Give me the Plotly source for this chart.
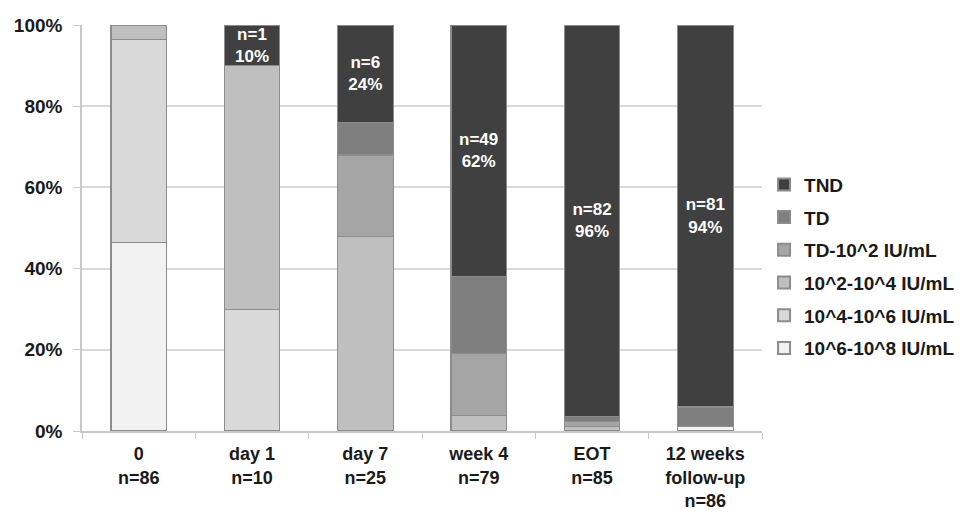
import plotly.graph_objects as go

categories = ["0<br>n=86", "day 1<br>n=10", "day 7<br>n=25", "week 4<br>n=79",
              "EOT<br>n=85", "12 weeks<br>follow-up<br>n=86"]

# percentages per category (bottom to top stacking order)
s_10_6_8 = [46.5, 0, 0, 0, 0, 1.2]
s_10_4_6 = [50.0, 30, 0, 0, 0, 0]
s_10_2_4 = [3.5, 60, 48, 3.8, 1.1, 0]
s_td_10_2 = [0, 0, 20, 15.2, 1.2, 0]
s_td = [0, 0, 8, 19.0, 1.2, 4.7]
s_tnd = [0, 10, 24, 62.0, 96.5, 94.1]
tnd_labels = ["", "n=1<br>10%", "n=6<br>24%", "n=49<br>62%", "n=82<br>96%", "n=81<br>94%"]

series = [
    ("10^6-10^8 IU/mL", s_10_6_8, "#f2f2f2"),
    ("10^4-10^6 IU/mL", s_10_4_6, "#d9d9d9"),
    ("10^2-10^4 IU/mL", s_10_2_4, "#bfbfbf"),
    ("TD-10^2 IU/mL", s_td_10_2, "#a5a5a5"),
    ("TD", s_td, "#7f7f7f"),
    ("TND", s_tnd, "#404040"),
]

FONT = "Liberation Sans, Arial, sans-serif"

fig = go.Figure()
for i, (name, vals, col) in enumerate(series):
    kw = {}
    if name == "TND":
        kw = dict(text=tnd_labels, textposition="inside", insidetextanchor="middle",
                  textangle=0, textfont=dict(color="white", size=17, family=FONT, weight="bold"))
    fig.add_trace(go.Bar(
        x=categories, y=vals, name=name, legendgroup=name, legendrank=1000 - i,
        marker=dict(color=col, line=dict(color="#8c8c8c", width=1.2)),
        **kw))

fig.update_layout(
    width=965, height=513,
    barmode="stack", bargap=0.51,
    plot_bgcolor="white", paper_bgcolor="white",
    margin=dict(l=74, r=211, t=17, b=90, autoexpand=False),
    font=dict(family=FONT, size=18, color="#1a1a1a", weight="bold"),
    uniformtext=dict(minsize=17, mode="show"),
    showlegend=True,
    legend=dict(traceorder="grouped", x=1.003, xanchor="left", y=0.405, yanchor="middle",
                font=dict(size=19, family=FONT, color="#1a1a1a", weight="bold"),
                itemsizing="constant", tracegroupgap=5, itemwidth=30),
)
fig.update_yaxes(range=[0, 100], dtick=20, ticksuffix="%", showgrid=True,
                 gridcolor="#d9d9d9", gridwidth=1.5, showline=True, linecolor="#c8c8c8",
                 linewidth=1.5, ticks="outside", tickcolor="#c8c8c8", ticklen=7,
                 ticklabelstandoff=7, automargin=False,
                 tickfont=dict(size=19, family=FONT, color="#1a1a1a", weight="bold"), zeroline=False)
fig.update_xaxes(showline=True, linecolor="#c8c8c8", linewidth=1.5, ticks="outside",
                 tickson="boundaries", tickcolor="#c8c8c8", ticklen=6, automargin=False,
                 ticklabelstandoff=6,
                 tickfont=dict(size=18, family=FONT, color="#1a1a1a", weight="bold"))

fig.write_html("out.html")
